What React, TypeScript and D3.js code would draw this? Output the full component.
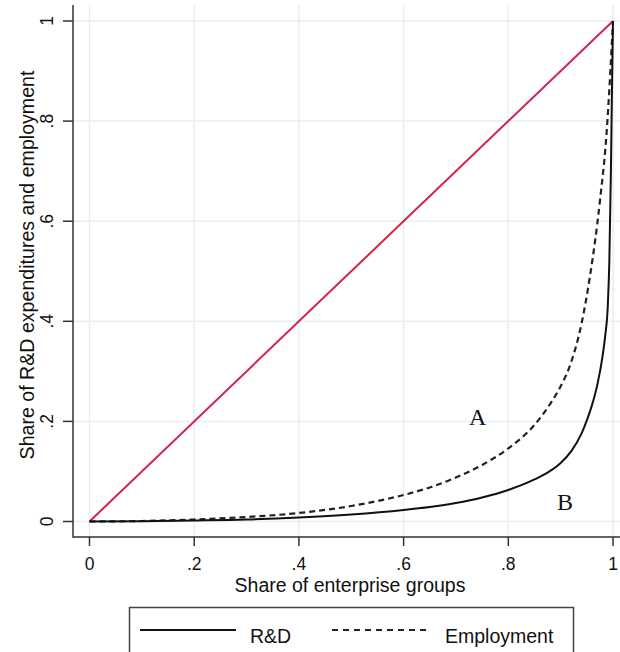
import React from "react";
import * as d3 from "d3";

const xTicks = [0, 0.2, 0.4, 0.6, 0.8, 1];
const yTicks = [0, 0.2, 0.4, 0.6, 0.8, 1];
const xTickLabels = ["0", ".2", ".4", ".6", ".8", "1"];
const yTickLabels = ["0", ".2", ".4", ".6", ".8", "1"];

const rdX = [0, 0.1, 0.2, 0.3, 0.4, 0.5, 0.6, 0.65, 0.7, 0.75, 0.8, 0.85, 0.88, 0.9, 0.92, 0.94, 0.95, 0.96, 0.97, 0.98, 0.985, 0.99, 0.993, 0.996, 0.998, 1];
const rdY = [0, 0.0005, 0.002, 0.004, 0.008, 0.014, 0.023, 0.029, 0.037, 0.048, 0.063, 0.084, 0.101, 0.117, 0.14, 0.176, 0.202, 0.233, 0.273, 0.33, 0.37, 0.43, 0.52, 0.7, 0.86, 1];

const empX = [0, 0.1, 0.2, 0.3, 0.4, 0.5, 0.6, 0.65, 0.7, 0.75, 0.8, 0.85, 0.88, 0.9, 0.92, 0.94, 0.956, 0.975, 0.988, 0.995, 1];
const empY = [0, 0.001, 0.004, 0.009, 0.017, 0.031, 0.053, 0.068, 0.088, 0.113, 0.146, 0.193, 0.235, 0.27, 0.318, 0.396, 0.49, 0.64, 0.78, 0.9, 1];

const eqX = [0, 1];
const eqY = [0, 1];

const xTitle = "Share of enterprise groups";
const yTitle = "Share of R&D expenditures and employment";
const legendLabels = ["R&D", "Employment"];
const annotations = [
  { text: "A", x: 0.725, y: 0.193 },
  { text: "B", x: 0.893, y: 0.023 },
];

export default function App() {
  const W = 620;
  const H = 652;
  const x = d3.scaleLinear().domain([0, 1]).range([89.5, 613]);
  const y = d3.scaleLinear().domain([0, 1]).range([521.5, 21]);
  const axisX = 73;
  const axisY = 537;
  const gridColor = "#e6eff1";
  const font = "Arial, 'Liberation Sans', sans-serif";

  const line = d3
    .line<[number, number]>()
    .x((d) => x(d[0]))
    .y((d) => y(d[1]))
    .curve(d3.curveMonotoneX);

  const rd = rdX.map((v, i) => [v, rdY[i]] as [number, number]);
  const emp = empX.map((v, i) => [v, empY[i]] as [number, number]);
  const eq = eqX.map((v, i) => [v, eqY[i]] as [number, number]);

  return (
    <svg
      width={W}
      height={H}
      style={{ position: "absolute", left: 0, top: 0, background: "#fff" }}
    >
      <rect x={0} y={0} width={W} height={H} fill="#fff" />
      {/* grid */}
      {xTicks.map((t) => (
        <line key={"gx" + t} x1={x(t)} x2={x(t)} y1={5} y2={axisY} stroke={gridColor} strokeWidth={1.5} />
      ))}
      {yTicks.map((t) => (
        <line key={"gy" + t} x1={axisX} x2={W} y1={y(t)} y2={y(t)} stroke={gridColor} strokeWidth={1.5} />
      ))}
      {/* axes */}
      <line x1={axisX} x2={axisX} y1={5} y2={axisY + 0.75} stroke="#333" strokeWidth={1.5} />
      <line x1={axisX} x2={W} y1={axisY} y2={axisY} stroke="#333" strokeWidth={1.5} />
      {xTicks.map((t, i) => (
        <g key={"xt" + t}>
          <line x1={x(t)} x2={x(t)} y1={axisY} y2={axisY + 9} stroke="#333" strokeWidth={1.5} />
          <text x={x(t)} y={569.5} textAnchor="middle" fontFamily={font} fontSize={17.5} fill="#111">
            {xTickLabels[i]}
          </text>
        </g>
      ))}
      {yTicks.map((t, i) => (
        <g key={"yt" + t}>
          <line x1={axisX - 10} x2={axisX} y1={y(t)} y2={y(t)} stroke="#333" strokeWidth={1.5} />
          <text
            transform={`translate(53,${y(t)}) rotate(-90)`}
            textAnchor="middle"
            fontFamily={font}
            fontSize={17.5}
            fill="#111"
          >
            {yTickLabels[i]}
          </text>
        </g>
      ))}
      <text x={350} y={592} textAnchor="middle" fontFamily={font} fontSize={19.5} fill="#111">
        {xTitle}
      </text>
      <text
        transform={`translate(34,265) rotate(-90)`}
        textAnchor="middle"
        fontFamily={font}
        fontSize={19.6}
        fill="#111"
      >
        {yTitle}
      </text>
      {/* lines */}
      <path d={line(eq) || ""} fill="none" stroke="#d4224b" strokeWidth={2} />
      <path d={line(emp) || ""} fill="none" stroke="#222" strokeWidth={2.2} strokeDasharray="6,4" />
      <path d={line(rd) || ""} fill="none" stroke="#111" strokeWidth={2} />
      {annotations.map((a) => (
        <text key={a.text} x={x(a.x)} y={y(a.y)} fontFamily="'Liberation Serif', 'Times New Roman', serif" fontSize={24} fill="#111">
          {a.text}
        </text>
      ))}
      {/* legend */}
      <rect x={129.5} y={607.5} width={444} height={60} fill="#fff" stroke="#444" strokeWidth={1.5} />
      <line x1={140} x2={236} y1={630} y2={630} stroke="#111" strokeWidth={2} />
      <text x={250} y={643} fontFamily={font} fontSize={19.5} fill="#111">
        {legendLabels[0]}
      </text>
      <line x1={332} x2={427} y1={630} y2={630} stroke="#222" strokeWidth={2} strokeDasharray="6,5" />
      <text x={445} y={643} fontFamily={font} fontSize={19.5} fill="#111">
        {legendLabels[1]}
      </text>
    </svg>
  );
}
